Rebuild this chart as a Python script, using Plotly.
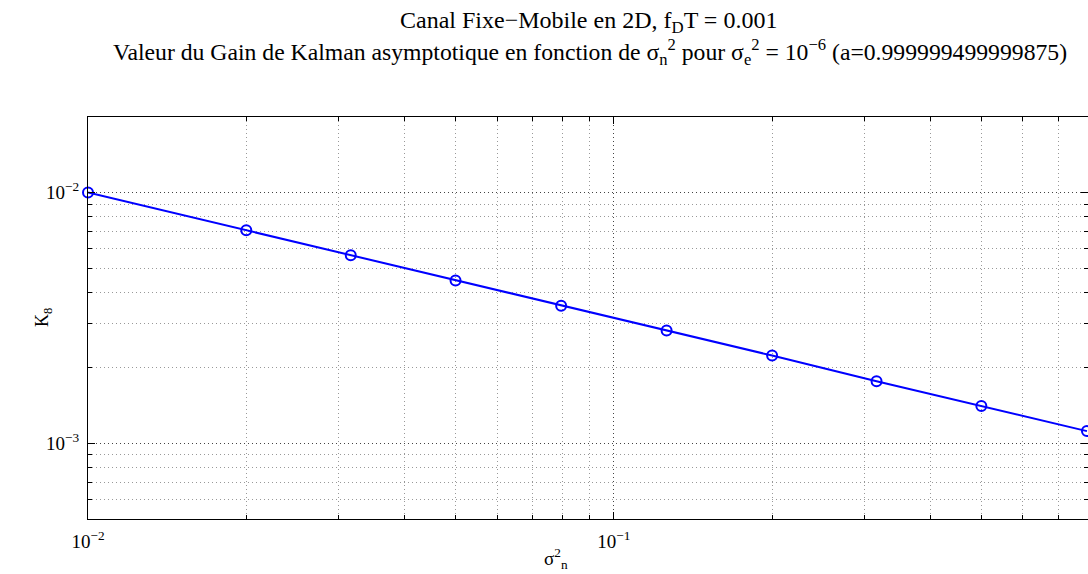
import numpy as np
import plotly.graph_objects as go

# sigma_n^2 values and asymptotic Kalman gain
sigma_n2 = [0.01, 0.02, 0.0316, 0.05, 0.0794, 0.126, 0.2, 0.316, 0.5, 0.794]
k_inf = [0.01, 0.00708, 0.00563, 0.00446, 0.00354, 0.00282, 0.00224, 0.00177, 0.00141, 0.00112]

x_major = [0.01, 0.1]
x_major_text = ["10<sup>\u22122</sup>", "10<sup>\u22121</sup>"]
y_major = [0.001, 0.01]
y_major_text = ["10<sup>\u22123</sup>", "10<sup>\u22122</sup>"]

x_minor = [m * 10.0**e for e in (-2, -1) for m in range(2, 10)]
y_minor = [m * 10.0**e for e in (-4, -3, -2) for m in range(2, 10)]

title_1 = "Canal Fixe\u2212Mobile en 2D, f<sub>D</sub>T = 0.001"
title_2 = ("Valeur du Gain de Kalman asymptotique en fonction de \u03c3<sub>n</sub><sup>2</sup> "
           "pour \u03c3<sub>e</sub><sup>2</sup> = 10<sup>\u22126</sup> (a=0.999999499999875)")

serif = "Liberation Serif"

fig = go.Figure()
fig.add_trace(go.Scatter(
    x=sigma_n2, y=k_inf, mode="lines+markers",
    line=dict(color="#0000ff", width=2),
    marker=dict(symbol="circle-open", size=10, color="#0000ff", line=dict(width=2)),
    cliponaxis=False, showlegend=False,
))

axis_common = dict(
    type="log", showline=True, linecolor="black", linewidth=1.3, mirror="ticks",
    ticks="inside", ticklen=7, tickcolor="black", tickwidth=1,
    showgrid=True, gridcolor="#444", griddash="1px,3px", gridwidth=1,
    zeroline=False, automargin=False,
    tickfont=dict(family=serif, size=19, color="black"),
)
minor_common = dict(ticks="inside", ticklen=4, tickcolor="black",
                    showgrid=True, gridcolor="#999", griddash="1px,3px", gridwidth=1)

fig.update_xaxes(
    **axis_common,
    range=[np.log10(0.01), np.log10(sigma_n2[-1]) + 0.002],
    tickvals=x_major, ticktext=x_major_text, ticklabelstandoff=5,
    minor=dict(tickvals=x_minor, **minor_common),
)
fig.update_yaxes(
    **axis_common,
    range=[np.log10(5e-4), np.log10(2e-2)],
    tickvals=y_major, ticktext=y_major_text, ticklabelstandoff=4,
    minor=dict(tickvals=y_minor, **minor_common),
)

fig.add_annotation(text=title_1, xref="paper", yref="paper", x=0.5, y=1.236,
                   xanchor="center", yanchor="middle", showarrow=False,
                   font=dict(family=serif, size=24, color="black"))
fig.add_annotation(text=title_2, xref="paper", yref="paper", x=0.502, y=1.1617,
                   xanchor="center", yanchor="middle", showarrow=False,
                   font=dict(family=serif, size=23.7, color="black"))
fig.add_annotation(text="\u03c3<sup>2</sup><sub>n</sub>", xref="paper", yref="paper",
                   x=0.468, y=-0.0995, xanchor="center", yanchor="middle", showarrow=False,
                   font=dict(family=serif, size=19, color="black"))
fig.add_annotation(text="K<sub>8</sub>", xref="paper", yref="paper", textangle=-90,
                   x=-0.045, y=0.5, xanchor="center", yanchor="middle", showarrow=False,
                   font=dict(family=serif, size=18, color="black"))

fig.update_layout(
    width=1088, height=574,
    margin=dict(l=88, r=0, t=117, b=55, autoexpand=False),
    paper_bgcolor="white", plot_bgcolor="white",
)

# drop the default 8px page margin so the figure fills the window exactly
fig.write_html("out.html", config={"displayModeBar": False},
               post_script="document.body.style.margin='0';")
